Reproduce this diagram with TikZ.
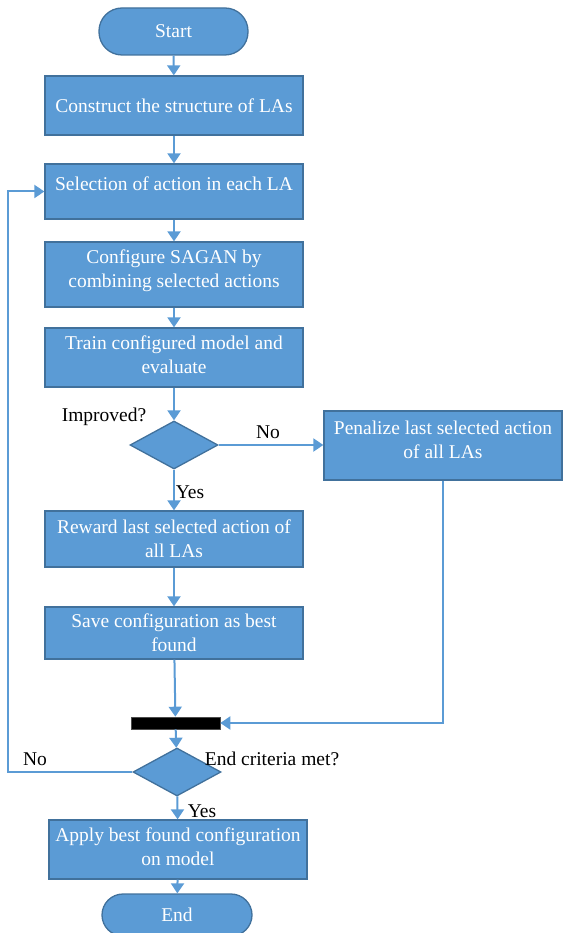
\documentclass[tikz,border=0pt]{standalone}
\usepackage{fontspec}
\setmainfont{Liberation Serif}
\newfontfamily\tnrfont{Liberation Serif}
\usetikzlibrary{arrows.meta,shapes.geometric}
\definecolor{fillb}{HTML}{5B9BD5}
\definecolor{edgeb}{HTML}{41719C}
\newcommand{\dropdn}[1]{\rule[-#1]{0pt}{#1}}
\begin{document}
\begin{tikzpicture}[x=1pt,y=-1pt,
  box/.style={rectangle, draw=edgeb, line width=1.3pt, fill=fillb, text=white,
    align=center, font=\tnrfont\fontsize{19.5}{24}\selectfont, inner sep=2pt, minimum width=258pt},
  term/.style={box, rounded corners=20pt},
  dia/.style={diamond, draw=edgeb, fill=fillb, line width=1.3pt, inner sep=0pt,
    minimum width=88pt, minimum height=48pt},
  lbl/.style={font=\tnrfont\fontsize{19.5}{24}\selectfont, text=black, inner sep=0pt},
  conn/.style={draw=fillb, line width=2pt, -{Triangle[length=10pt,width=13pt]}}]
\useasboundingbox (0,0) rectangle (562,933);

\node[term, minimum width=149pt, minimum height=47pt, rounded corners=23pt] (start) at (173.5,31.5) {Start};
\node[box, minimum height=59pt] (c1) at (174,105.5) {Construct the structure of LAs};
\node[box, minimum height=55pt] (c2) at (174,191.5) {Selection of action in each LA\dropdn{16pt}};
\node[box, minimum height=65pt] (c3) at (174,274.5) {Configure SAGAN by\\combining selected actions\dropdn{12pt}};
\node[box, minimum height=59pt] (c4) at (174,357.5) {Train configured model and\\evaluate\dropdn{5pt}};
\node[dia] (d1) at (174,445) {};
\node[box, minimum width=238pt, minimum height=69pt] (pen) at (443,445.5) {Penalize last selected action\\of all LAs\dropdn{12pt}};
\node[box, minimum height=56pt] (c5) at (174,539) {Reward last selected action of\\all LAs};
\node[box, minimum height=52pt] (c6) at (174,633) {Save configuration as best\\found};
\node[rectangle, fill=black, draw=black!70, line width=0.6pt, minimum width=89pt, minimum height=12pt, inner sep=0pt] (bar) at (175.5,723) {};
\node[dia] (d2) at (177,772) {};
\node[box, minimum height=59pt] (c7) at (178,849.5) {Apply best found configuration\\on model\dropdn{6pt}};
\node[term, minimum width=150pt, minimum height=42pt, rounded corners=21pt] (end) at (177,915) {End};

\node[lbl] (limp) at (104,417) {Improved?};
\node[lbl] (lno1) at (268,432) {No};
\node[lbl] (lyes1) at (190,492) {Yes};
\node[lbl] (lno2) at (35,759) {No};
\node[lbl] (lend) at (272,759) {End criteria met?};
\node[lbl] (lyes2) at (202,811) {Yes};

\draw[conn] (start) -- (c1);
\draw[conn] (c1) -- (c2);
\draw[conn] (c2) -- (c3);
\draw[conn] (c3) -- (c4);
\draw[conn] (c4) -- (d1);
\draw[conn] (d1) -- (c5);
\draw[conn] (d1.east) -- (pen.west |- d1.east);
\draw[conn] (c5) -- (c6);
\draw[conn] (c6) -- (bar);
\draw[conn] (pen.south) |- (bar.east);
\draw[conn] (bar) -- (d2);
\draw[conn] (d2) -- (c7);
\draw[conn] (c7) -- (end);
\draw[conn] (d2.west) -- ++(-124,0) |- (c2.west);
\end{tikzpicture}
\end{document}
